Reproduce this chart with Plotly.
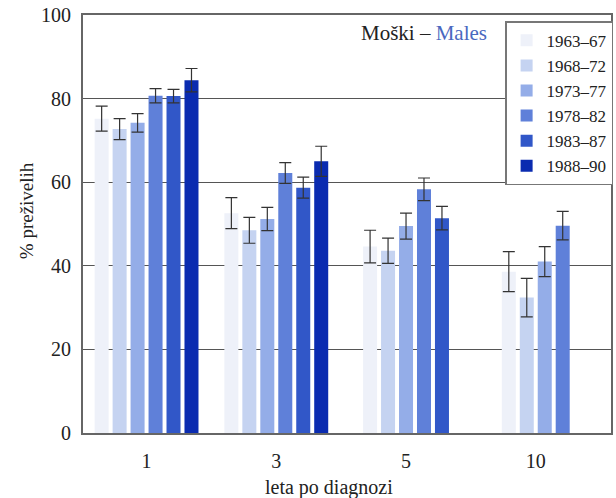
import plotly.graph_objects as go

# ---- data ----
groups = ["1", "3", "5", "10"]
periods = ["1963–67", "1968–72", "1973–77", "1978–82", "1983–87", "1988–90"]

v_1963 = [75.2, 52.6, 44.6, 38.6]
v_1968 = [72.7, 48.5, 43.6, 32.4]
v_1973 = [74.2, 51.2, 49.5, 41.0]
v_1978 = [80.7, 62.2, 58.3, 49.6]
v_1983 = [80.6, 58.7, 51.4, None]
v_1988 = [84.4, 65.0, None, None]

e_1963 = [3.0, 3.7, 3.9, 4.8]
e_1968 = [2.5, 3.1, 3.0, 4.6]
e_1973 = [2.2, 2.8, 3.1, 3.6]
e_1978 = [1.7, 2.5, 2.7, 3.4]
e_1983 = [1.6, 2.5, 2.8, None]
e_1988 = [2.8, 3.6, None, None]

values = [v_1963, v_1968, v_1973, v_1978, v_1983, v_1988]
errors = [e_1963, e_1968, e_1973, e_1978, e_1983, e_1988]

colors = ["#eef1f9", "#c5d3f1", "#94ade8", "#5f80d9", "#3157c8", "#0a2bb0"]

SERIF = "Liberation Serif"

# ---- layout helpers: bars centred within each group ----
slot = 0.1385
bar_w = 0.108
counts = [sum(1 for s in values if s[g] is not None) for g in range(len(groups))]

fig = go.Figure()
for k, (name, vals, errs, col) in enumerate(zip(periods, values, errors, colors)):
    xs, ys, es = [], [], []
    for g, v in enumerate(vals):
        if v is None:
            continue
        n = counts[g]
        xs.append(g + (k - (n - 1) / 2) * slot)
        ys.append(v)
        es.append(errs[g])
    fig.add_trace(go.Bar(
        x=xs, y=ys, name=name, width=bar_w,
        marker=dict(color=col, line=dict(width=0)),
        error_y=dict(type="data", array=es, visible=True,
                     color="#333333", thickness=1.2, width=6),
    ))

fig.update_layout(
    width=616, height=498,
    margin=dict(l=83, r=3, t=15, b=65),
    paper_bgcolor="white", plot_bgcolor="white",
    barmode="overlay",
    font=dict(family=SERIF, size=18, color="#222222"),
    showlegend=True,
    legend=dict(
        x=1.004, xanchor="right", y=0.985, yanchor="top",
        bgcolor="white", bordercolor="#777777", borderwidth=1.5,
        font=dict(family=SERIF, size=17, color="#222222"),
        itemwidth=30, tracegroupgap=0,
    ),
    xaxis=dict(
        range=[-0.49, 3.58],
        tickmode="array", tickvals=list(range(len(groups))), ticktext=groups,
        showgrid=False, zeroline=False,
        showline=True, mirror=True, linecolor="#666666", linewidth=1.8,
        ticks="", ticklabelstandoff=9,
        tickfont=dict(family=SERIF, size=20, color="#222222"),
    ),
    yaxis=dict(
        range=[0, 100], dtick=20,
        showgrid=True, gridcolor="#555555", gridwidth=1.4,
        zeroline=False,
        showline=True, mirror=True, linecolor="#666666", linewidth=1.8,
        ticks="", ticklabelstandoff=6,
        tickfont=dict(family=SERIF, size=20, color="#222222"),
    ),
    annotations=[
        dict(text="Moški – <span style='color:#4a68c0'>Males</span>",
             xref="paper", yref="paper", x=0.768, y=0.957,
             xanchor="right", yanchor="middle", showarrow=False,
             font=dict(family=SERIF, size=21, color="#222222")),
        dict(text="leta po diagnozi", xref="paper", yref="paper",
             x=0.466, y=-0.13, xanchor="center", yanchor="middle",
             showarrow=False, font=dict(family=SERIF, size=20, color="#222222")),
        dict(text="% preživelih", xref="paper", yref="paper",
             x=-0.108, y=0.533, xanchor="center", yanchor="middle",
             textangle=-90, showarrow=False,
             font=dict(family=SERIF, size=19, color="#222222")),
    ],
)

fig.write_html("out.html")
